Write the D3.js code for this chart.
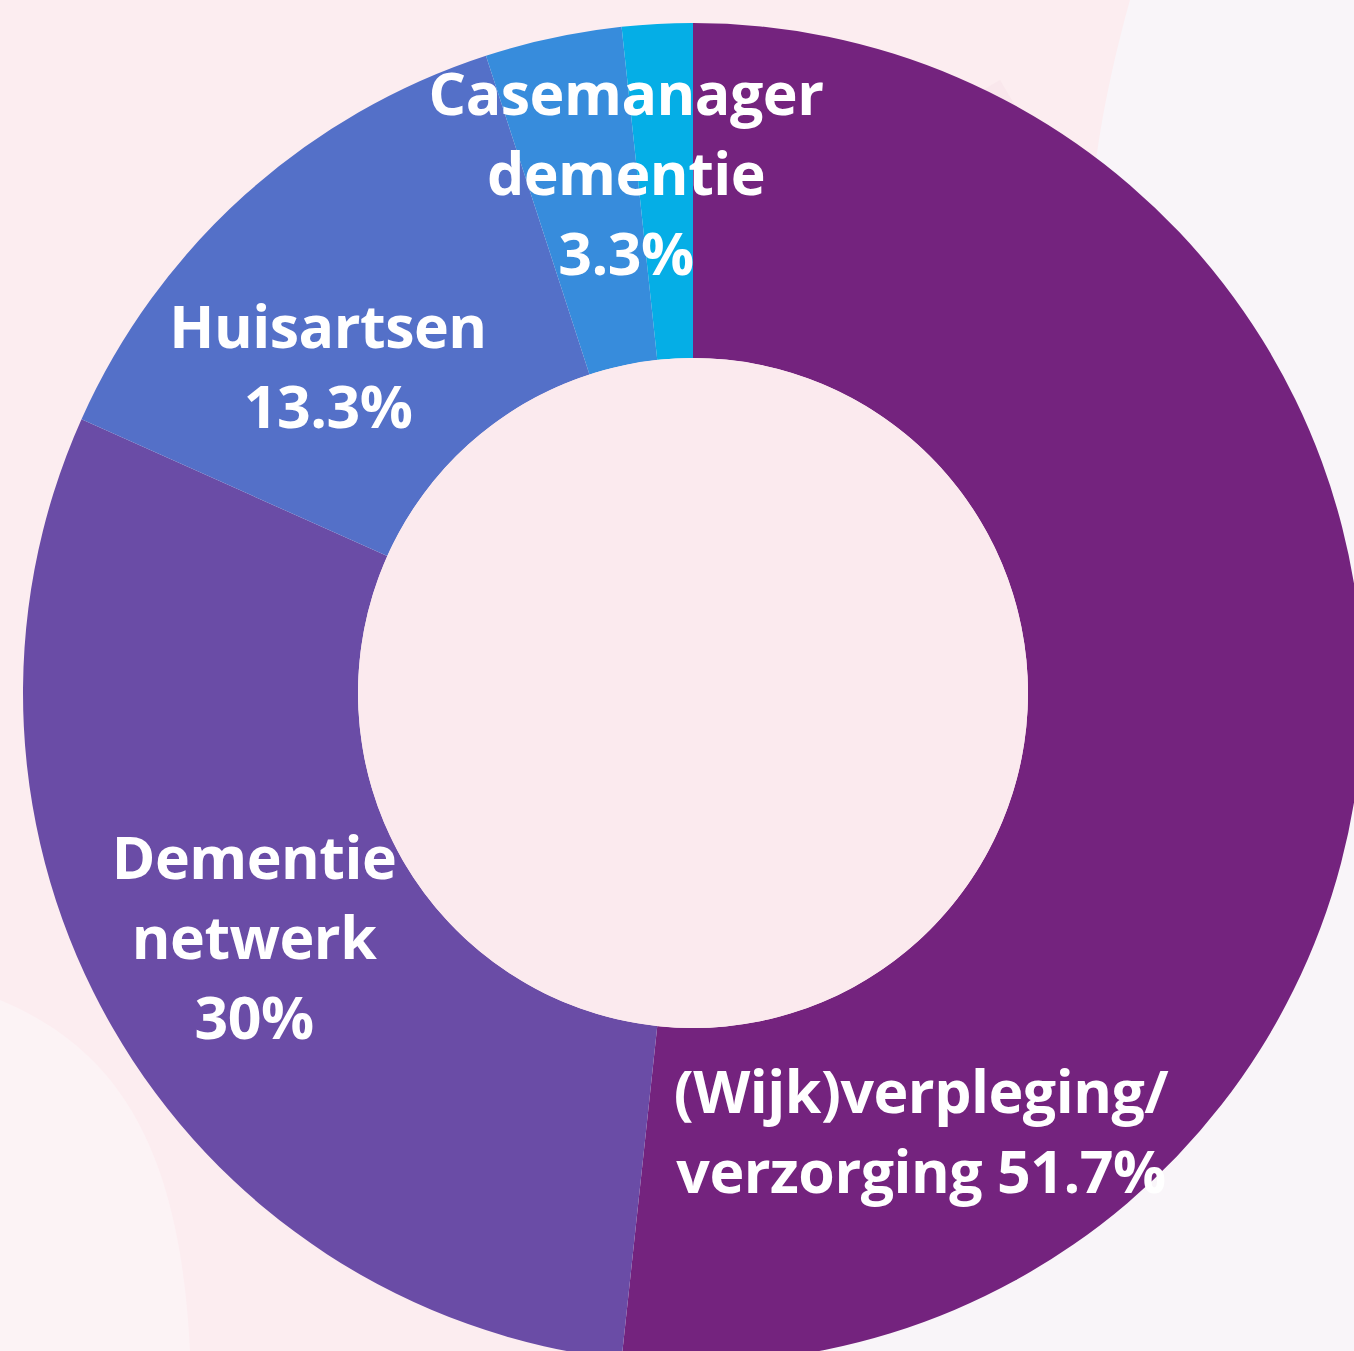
<!DOCTYPE html>
<html>
<head>
<meta charset="utf-8">
<script src="https://cdn.jsdelivr.net/npm/d3@7"></script>
<style>
  html, body { margin: 0; padding: 0; background: #fcedf0; }
  svg { display: block; }
</style>
</head>
<body>
<script>
// data
var categories = ["(Wijk)verpleging/ verzorging", "Dementie netwerk", "Huisartsen", "Casemanager dementie", "Overig"];
var values = [51.7, 30, 13.3, 3.3, 1.7];
var labelLines = [
    ["(Wijk)verpleging/", "verzorging 51.7%"],
    ["Dementie", "netwerk", "30%"],
    ["Huisartsen", "13.3%"],
    ["Casemanager", "dementie", "3.3%"],
    []
];
var colors = ["#74237e", "#6a4ca6", "#5470c8", "#378cdc", "#05aee6"];

// layout
var W = 1354, H = 1351;
var cx = 693, cy = 693;
var outerR = 670, innerR = 335;
var labelAnchors = [[921, 1113], [254, 879], [328, 348], [626, 115], null];
var lineH = 80;

var svg = d3.select("body").append("svg")
    .attr("width", W)
    .attr("height", H);

// faint background shapes
var bg = svg.append("g");
bg.append("rect").attr("width", W).attr("height", H).attr("fill", "#fcedf0");
bg.append("path")
    .attr("d", "M1130,0 L1354,0 L1354,1351 L600,1351 C900,1250 1150,1000 1110,600 C1090,400 1060,250 1130,0 Z")
    .attr("fill", "#f9f5f9");
bg.append("path")
    .attr("d", "M400,470 C450,480 500,470 560,455 C800,420 1000,330 1100,250 L1000,80 C800,200 600,280 400,330 Z")
    .attr("fill", "#f8e4e9")
    .attr("opacity", 0.7);
bg.append("path")
    .attr("d", "M0,1000 C120,1050 180,1150 190,1351 L0,1351 Z")
    .attr("fill", "#fcf3f5");

var g = svg.append("g")
    .attr("transform", "translate(" + cx + "," + cy + ")");

var pie = d3.pie()
    .sort(null)
    .value(function(d) { return d; });
var arcs = pie(values);

var arc = d3.arc()
    .innerRadius(innerR)
    .outerRadius(outerR);

g.selectAll("path.slice")
    .data(arcs)
    .enter()
    .append("path")
    .attr("class", "slice")
    .attr("d", arc)
    .attr("fill", function(d, i) { return colors[i]; });

// centre hole
g.append("circle")
    .attr("r", innerR)
    .attr("fill", "#fbeaee");

// labels
var labels = svg.append("g");
labelLines.forEach(function(lines, i) {
    if (!labelAnchors[i]) return;
    var t = labels.append("text")
        .attr("x", labelAnchors[i][0])
        .attr("y", labelAnchors[i][1])
        .attr("text-anchor", "middle")
        .attr("font-family", "'Open Sans', sans-serif")
        .attr("font-weight", 700)
        .attr("font-size", 59)
        .attr("letter-spacing", -0.5)
        .attr("fill", "#ffffff");
    lines.forEach(function(l, j) {
        t.append("tspan")
            .attr("x", labelAnchors[i][0])
            .attr("dy", j == 0 ? 0 : lineH)
            .text(l);
    });
});
</script>
</body>
</html>
